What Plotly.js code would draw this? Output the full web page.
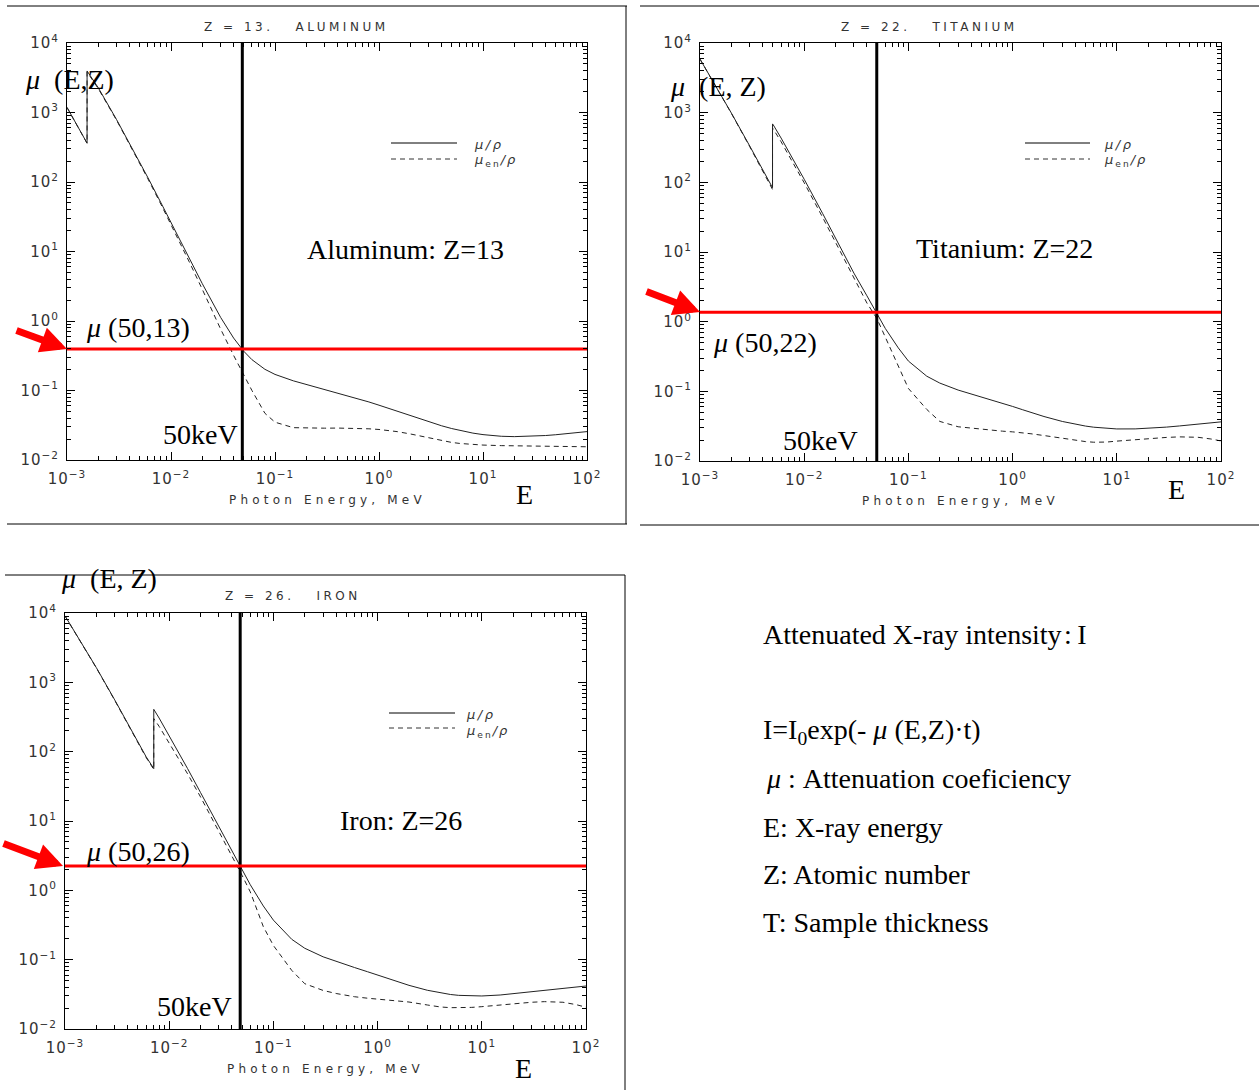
<!DOCTYPE html>
<html><head><meta charset="utf-8">
<script src="https://cdn.plot.ly/plotly-3.0.1.min.js"></script>
<style>html,body{margin:0;padding:0;background:#fff}#chart{width:1259px;height:1090px}
.xtick text,.ytick text,.x2tick text,.y2tick text,.x3tick text,.y3tick text{letter-spacing:1px}</style>
</head><body><div id="chart"></div>
<script>
// ---------------- data ----------------
const energyAl = [1e-3,1.5e-3,1.5596e-3,1.5596e-3,2e-3,3e-3,4e-3,5e-3,6e-3,8e-3,1e-2,1.5e-2,2e-2,3e-2,4e-2,5e-2,6e-2,8e-2,0.1,0.15,0.2,0.3,0.4,0.5,0.6,0.8,1,1.25,1.5,2,3,4,5,6,8,10,15,20,30,40,50,60,80,100];
const muAl = [1185,402.2,362.1,3957,2263,788.0,360.5,193.4,115.3,50.33,26.23,7.955,3.441,1.128,0.5685,0.3681,0.2778,0.2018,0.1704,0.1378,0.1223,0.1042,0.09276,0.08445,0.07802,0.06841,0.06146,0.05496,0.05006,0.04324,0.03541,0.03106,0.02836,0.02655,0.02437,0.02318,0.02195,0.02168,0.02197,0.02250,0.02309,0.02365,0.02474,0.02562];
const muenAl = [1183,400.1,360.0,3829,2204,773.2,351.4,187.6,111.0,47.79,24.58,7.077,2.853,0.766,0.32,0.165,0.100,0.047,0.035,0.0292,0.0287,0.0287,0.0288,0.0288,0.0286,0.0281,0.0275,0.0266,0.0256,0.0237,0.0207,0.0190,0.0179,0.0173,0.0167,0.0164,0.0161,0.0160,0.0158,0.0157,0.0157,0.0156,0.0155,0.0155];

const energyTi = [1e-3,1.5e-3,2e-3,3e-3,4e-3,4.966e-3,4.966e-3,5e-3,6e-3,8e-3,1e-2,1.5e-2,2e-2,3e-2,4e-2,5e-2,6e-2,8e-2,0.1,0.15,0.2,0.3,0.4,0.5,0.6,0.8,1,1.25,1.5,2,3,4,5,6,8,10,15,20,30,40,50,60,80,100];
const muTi = [5869,2096,986.8,332.3,151.7,83.8,687.8,683.8,432.3,202.3,110.7,35.87,15.85,4.972,2.35,1.30,0.80,0.42,0.2721,0.1649,0.1314,0.1043,0.09185,0.08379,0.07720,0.06751,0.06070,0.05441,0.04979,0.04351,0.03695,0.03360,0.03173,0.03056,0.02932,0.02885,0.02889,0.02938,0.03066,0.03185,0.03290,0.03381,0.03531,0.03646];
const muenTi = [5860,2087,978,325,146,79,600,596,383,180,98.5,31.6,13.8,4.2,1.85,1.1,0.6,0.22,0.11,0.055,0.037,0.031,0.0295,0.0285,0.0278,0.0268,0.0262,0.0254,0.0246,0.0232,0.0212,0.0198,0.0190,0.0186,0.0187,0.0193,0.0203,0.0210,0.0218,0.0222,0.0222,0.0219,0.0207,0.0194];

const energyFe = [1e-3,1.5e-3,2e-3,3e-3,4e-3,5e-3,6e-3,7.112e-3,7.112e-3,8e-3,1e-2,1.5e-2,2e-2,3e-2,4e-2,5e-2,6e-2,8e-2,0.1,0.15,0.2,0.3,0.4,0.5,0.6,0.8,1,1.25,1.5,2,3,4,5,6,8,10,15,20,30,40,50,60,80,100];
const muFe = [9085,3399,1626,557.6,256.7,139.8,84.63,57.03,407.8,305.7,170.6,57.08,25.68,8.176,3.629,1.958,1.205,0.5952,0.3717,0.1964,0.1460,0.1099,0.0940,0.08414,0.07704,0.06699,0.05995,0.05350,0.04883,0.04265,0.03621,0.03312,0.03146,0.03057,0.02991,0.02994,0.03092,0.03224,0.03445,0.03623,0.03760,0.03870,0.04043,0.04170];
const muenFe = [9050,3380,1610,550,252,137,82.5,55.5,300,232,134,48,22.2,7.1,3.1,1.65,0.95,0.30,0.16,0.07,0.045,0.036,0.0325,0.0305,0.0292,0.0278,0.0270,0.0264,0.0258,0.0245,0.0222,0.0208,0.0203,0.0202,0.0205,0.0210,0.0222,0.0232,0.0243,0.0248,0.0248,0.0243,0.0225,0.0206];

// marker lines: 50 keV and mu(50 keV, Z)
const edge50 = {Al: 0.0485, Ti: 0.0497, Fe: 0.048};
const mu50 = {Al: 0.395, Ti: 1.36, Fe: 2.24};

const xTickVals = [1e-3,1e-2,1e-1,1,10,100];
const xTickText = ['10<sup>−3</sup>','10<sup>−2</sup>','10<sup>−1</sup>','10<sup>0</sup>','10<sup>1</sup>','10<sup>2</sup>'];
const yTickVals = [1e-2,1e-1,1,10,100,1000,10000];
const yTickText = ['10<sup>−2</sup>','10<sup>−1</sup>','10<sup>0</sup>','10<sup>1</sup>','10<sup>2</sup>','10<sup>3</sup>','10<sup>4</sup>'];

const panelTitles = ['Z = 13.   ALUMINUM','Z = 22.   TITANIUM','Z = 26.   IRON'];
const elementLabels = ['Aluminum: Z=13','Titanium: Z=22','Iron: Z=26'];
const muLabels = ['(50,13)','(50,22)','(50,26)'];
const xTitle = 'Photon Energy, MeV';
const sideText = ['Attenuated X-ray intensity\u200a:\u2009I','I=I<sub>0</sub>exp(- <i>μ</i> (E,Z)·t)','<i>μ</i> : Attenuation coeficiency','E: X-ray energy','Z: Atomic number','T: Sample thickness'];

// ---------------- helpers ----------------
const W = 1259, H = 1090;
const X = p => p / W;
const Y = p => 1 - p / H;
function minorVals(lo, hi){ const v=[]; for(let e=lo;e<hi;e++){ for(let d=2;d<=9;d++) v.push(d*Math.pow(10,e)); } return v; }
const minorX = minorVals(-3,2), minorY = minorVals(-2,4);
function spaced(t, ls){ return '<span style="letter-spacing:'+ls+'px">'+t+'</span>'; }

const tickFont = {family:'DejaVu Sans', size:15, color:'#333'};
function xax(dom, anchor){
  return {type:'log', range:[-3,2], domain:dom, anchor:anchor, tickmode:'array', tickvals:xTickVals, ticktext:xTickText,
    ticks:'inside', ticklen:8, tickwidth:1, tickcolor:'#000', showline:true, linecolor:'#000', linewidth:1, mirror:'ticks',
    showgrid:false, zeroline:false, tickfont:tickFont, ticklabelstandoff:5,
    minor:{tickmode:'array', tickvals:minorX, ticks:'inside', ticklen:4, tickwidth:1, tickcolor:'#000', showgrid:false}};
}
function yax(dom, anchor){
  return {type:'log', range:[-2,4], domain:dom, anchor:anchor, tickmode:'array', tickvals:yTickVals, ticktext:yTickText,
    ticks:'inside', ticklen:8, tickwidth:1, tickcolor:'#000', showline:true, linecolor:'#000', linewidth:1, mirror:'ticks',
    showgrid:false, zeroline:false, tickfont:tickFont, ticklabelstandoff:4,
    minor:{tickmode:'array', tickvals:minorY, ticks:'inside', ticklen:4, tickwidth:1, tickcolor:'#000', showgrid:false}};
}

const panels = [
  {xa:'x', ya:'y', e:energyAl, mu:muAl, muen:muenAl, e50:edge50.Al, m50:mu50.Al},
  {xa:'x2', ya:'y2', e:energyTi, mu:muTi, muen:muenTi, e50:edge50.Ti, m50:mu50.Ti},
  {xa:'x3', ya:'y3', e:energyFe, mu:muFe, muen:muenFe, e50:edge50.Fe, m50:mu50.Fe}
];

const traces = [];
panels.forEach(p => {
  traces.push({x:p.e, y:p.muen, xaxis:p.xa, yaxis:p.ya, mode:'lines', line:{color:'#222', width:1, dash:'5px,4px'}, showlegend:false, hoverinfo:'skip'});
  traces.push({x:p.e, y:p.mu, xaxis:p.xa, yaxis:p.ya, mode:'lines', line:{color:'#222', width:1}, showlegend:false, hoverinfo:'skip'});
  traces.push({x:[p.e50,p.e50], y:[1e-2,1e4], xaxis:p.xa, yaxis:p.ya, mode:'lines', line:{color:'#000', width:3}, showlegend:false, hoverinfo:'skip'});
  traces.push({x:[1e-3,1e2], y:[p.m50,p.m50], xaxis:p.xa, yaxis:p.ya, mode:'lines', line:{color:'#ff0000', width:3}, showlegend:false, hoverinfo:'skip'});
});

const serif = {family:'Liberation Serif', size:28, color:'#000'};
const ann = [];
function txt(t, x, y, font, xanchor){ ann.push({text:t, x:X(x), y:Y(y), xref:'paper', yref:'paper', xanchor:xanchor||'left', yanchor:'middle', showarrow:false, borderpad:0, font:font||serif}); }
function arrow(x0,y0,x1,y1){ ann.push({text:'', x:X(x1), y:Y(y1), ax:X(x0), ay:Y(y0), xref:'paper', yref:'paper', axref:'paper', ayref:'paper', showarrow:true, arrowhead:2, arrowsize:0.75, arrowwidth:7, arrowcolor:'#ff0000'}); }

const titleFont = {family:'DejaVu Sans', size:12, color:'#333'};
const legFont = {family:'DejaVu Sans', size:13, color:'#333'};
const muRho = spaced('<i>μ/ρ</i>',2.5);
const muEnRho = spaced('<i>μ</i><sub>en</sub><i>/ρ</i>',2);
// Aluminum
txt(spaced(panelTitles[0],3.5), 296, 27, titleFont, 'center');
txt(spaced(xTitle,4.2), 327, 500, titleFont, 'center');
txt('<i>μ</i>\u00a0\u00a0(E,Z)', 24, 79);
txt(elementLabels[0], 306, 250);
txt('<i>μ</i>\u00a0'+muLabels[0], 85, 327);
txt('50keV', 162, 435);
txt('E', 515, 494);
arrow(15,330,67,349);
txt(muRho, 473, 144, legFont);
txt(muEnRho, 473, 161, legFont);
// Titanium
txt(spaced(panelTitles[1],3.5), 929, 27, titleFont, 'center');
txt(spaced(xTitle,4.2), 960, 501, titleFont, 'center');
txt('<i>μ</i>\u00a0\u00a0(E,\u00a0Z)', 669, 86);
txt(elementLabels[1], 915, 249);
txt('<i>μ</i>\u00a0'+muLabels[1], 712, 342);
txt('50keV', 782, 440);
txt('E', 1167, 489);
arrow(645,291,700,312);
txt(muRho, 1103, 144, legFont);
txt(muEnRho, 1103, 161, legFont);
// Iron
txt(spaced(panelTitles[2],3.5), 293, 596, titleFont, 'center');
txt(spaced(xTitle,4.2), 325, 1069, titleFont, 'center');
txt('<i>μ</i>\u00a0\u00a0(E,\u00a0Z)', 60, 579);
txt(elementLabels[2], 339, 820);
txt('<i>μ</i>\u00a0'+muLabels[2], 85, 851);
txt('50keV', 156, 1006);
txt('E', 514, 1068);
arrow(2,843,63,866);
txt(muRho, 465, 714, legFont);
txt(muEnRho, 465, 731, legFont);
// side text
const sideY = [634,731,778,827,874,922];
sideText.forEach((t,i) => txt(t, i===2 ? 765 : 762, sideY[i]));

const shapes = [];
function ln(x0,y0,x1,y1,dash){ shapes.push({type:'line', xref:'paper', yref:'paper', x0:X(x0), y0:Y(y0), x1:X(x1), y1:Y(y1), line:{color:dash?'#333':'#000', width:1, dash:dash||'solid'}}); }
// frames
ln(7,6,627,6); ln(626,6,626,524); ln(7,524,627,524);
ln(640,6,1259,6); ln(640,525,1259,525);
ln(5,575,625,575); ln(625,575,625,1090);
// legend keys
ln(391,143,457,143); ln(391,159,457,159,'5px,4px');
ln(1025,143,1090,143); ln(1025,159,1090,159,'5px,4px');
ln(389,713,455,713); ln(389,728,455,728,'5px,4px');

const layout = {
  width:W, height:H, margin:{l:0,r:0,t:0,b:0}, paper_bgcolor:'#fff', plot_bgcolor:'#fff', showlegend:false,
  xaxis: xax([67/W,587/W],'y'), yaxis: yax([1-460/H,1-43/H],'x'),
  xaxis2: xax([700/W,1221/W],'y2'), yaxis2: yax([1-461/H,1-43/H],'x2'),
  xaxis3: xax([65/W,586/W],'y3'), yaxis3: yax([1-1029/H,1-613/H],'x3'),
  annotations: ann, shapes: shapes
};
Plotly.newPlot('chart', traces, layout, {staticPlot:true, displayModeBar:false});
</script></body></html>
